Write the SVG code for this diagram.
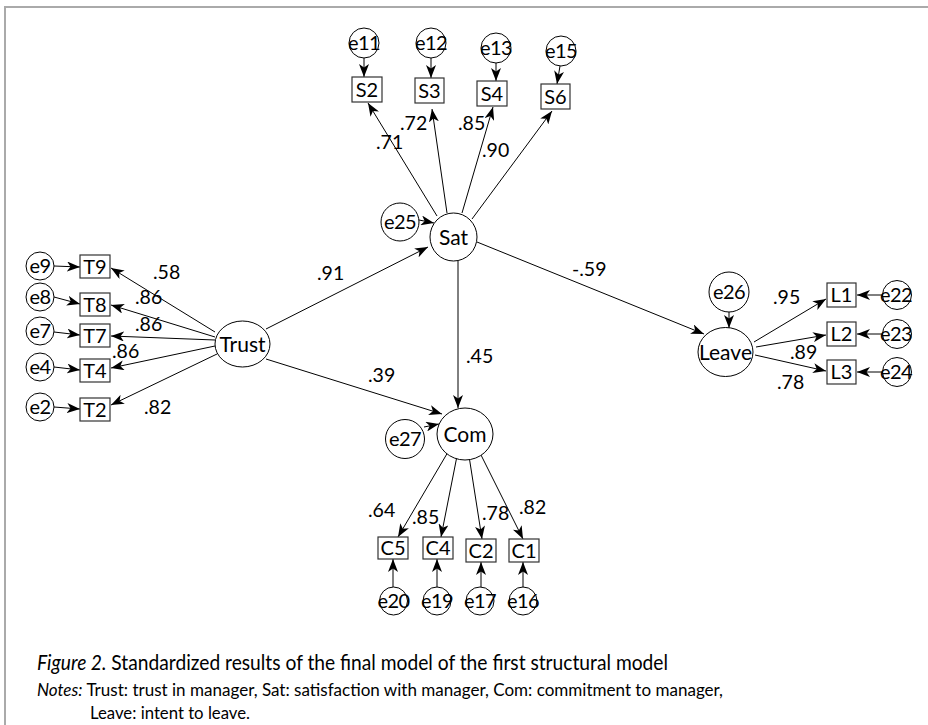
<svg xmlns="http://www.w3.org/2000/svg" width="928" height="725" viewBox="0 0 928 725">
<defs>
<marker id="ah" viewBox="0 0 13 10" refX="13" refY="5" markerWidth="13" markerHeight="10" markerUnits="userSpaceOnUse" orient="auto"><path d="M0,0 L13,5 L0,10 L3.5,5 z" fill="#000"/></marker>
</defs>
<style>
.n ellipse, .n circle {fill:#fff; stroke:#000; stroke-width:1}
.n rect {fill:#fff; stroke:#333; stroke-width:1.2}
text {font-family: Lato, "Open Sans", sans-serif; font-size:19.5px; fill:#000}
.c {text-anchor:middle}
.b {font-size:20px}
.l {font-size:21px}
.e {font-size:20px; letter-spacing:-0.6px}
#connectors line {stroke:#000; stroke-width:1; marker-end:url(#ah)}
.cap {font-size:21px}
.note {font-size:17px}
</style>
<rect width="928" height="725" fill="#fff"/>
<path d="M4,7 H928 M5,7 V725" stroke="#aaa" stroke-width="2" fill="none"/>

<g id="connectors">
<line x1="364" y1="58" x2="364" y2="77"/>
<line x1="431" y1="58" x2="431" y2="78"/>
<line x1="496" y1="63" x2="496" y2="81"/>
<line x1="560" y1="66" x2="557" y2="84"/>
<line x1="437" y1="216" x2="368" y2="103"/>
<line x1="447" y1="213" x2="432" y2="109"/>
<line x1="462" y1="213" x2="493" y2="107"/>
<line x1="472" y1="219" x2="552" y2="111"/>
<line x1="419" y1="220" x2="434" y2="223"/>
<line x1="266" y1="329" x2="428" y2="247"/>
<line x1="477" y1="242" x2="704" y2="334"/>
<line x1="458" y1="261" x2="458" y2="408"/>
<line x1="266" y1="359" x2="442" y2="414"/>
<line x1="424" y1="427" x2="439" y2="424"/>
<line x1="729" y1="312" x2="729" y2="328"/>
<line x1="754" y1="342" x2="826" y2="299"/>
<line x1="756" y1="347" x2="826" y2="335"/>
<line x1="755" y1="355" x2="826" y2="371"/>
<line x1="882" y1="295" x2="857" y2="295"/>
<line x1="882" y1="334" x2="857" y2="334"/>
<line x1="882" y1="372" x2="857" y2="372"/>
<line x1="448" y1="452" x2="398" y2="537"/>
<line x1="457" y1="456" x2="441" y2="537"/>
<line x1="469" y1="456" x2="482" y2="539"/>
<line x1="480" y1="453" x2="523" y2="539"/>
<line x1="393" y1="587" x2="393" y2="559"/>
<line x1="437" y1="587" x2="437" y2="559"/>
<line x1="481" y1="587" x2="481" y2="562"/>
<line x1="523" y1="587" x2="523" y2="562"/>
<line x1="215" y1="332" x2="111" y2="268"/>
<line x1="215" y1="337" x2="111" y2="305"/>
<line x1="215" y1="340" x2="111" y2="336"/>
<line x1="215" y1="346" x2="111" y2="368"/>
<line x1="217" y1="354" x2="111" y2="405"/>
<line x1="54" y1="266" x2="80" y2="267"/>
<line x1="54" y1="297" x2="80" y2="304"/>
<line x1="54" y1="332" x2="80" y2="335"/>
<line x1="54" y1="367" x2="80" y2="370"/>
<line x1="54" y1="407" x2="80" y2="409"/>
</g>

<g id="labels">
<text x="376" y="149">.71</text>
<text x="400" y="130">.72</text>
<text x="458" y="130">.85</text>
<text x="482" y="157">.90</text>
<text x="317" y="280">.91</text>
<text x="368" y="382">.39</text>
<text x="466" y="363">.45</text>
<text x="572" y="276">-.59</text>
<text x="153" y="279">.58</text>
<text x="135" y="304">.86</text>
<text x="135" y="331">.86</text>
<text x="112" y="358">.86</text>
<text x="144" y="414">.82</text>
<text x="773" y="304">.95</text>
<text x="790" y="359">.89</text>
<text x="777" y="389">.78</text>
<text x="368" y="517">.64</text>
<text x="412" y="524">.85</text>
<text x="482" y="520">.78</text>
<text x="519" y="514">.82</text>
</g>

<g id="Sat" class="n"><ellipse cx="453.5" cy="237" rx="23.5" ry="24"/><text class="c l" x="453.5" y="244.5">Sat</text></g>
<g id="Trust" class="n"><ellipse cx="242.5" cy="344" rx="27.5" ry="23"/><text class="c l" x="242.5" y="351.5">Trust</text></g>
<g id="Com" class="n"><ellipse cx="465" cy="434" rx="28" ry="26"/><text class="c l" x="465" y="441.5">Com</text></g>
<g id="Leave" class="n"><ellipse cx="725.5" cy="352" rx="27.5" ry="24.5"/><text class="c l" x="725.5" y="359.5">Leave</text></g>

<g id="e25" class="n"><circle cx="400" cy="222" r="19"/><text class="c e" x="400" y="229">e25</text></g>
<g id="e27" class="n"><circle cx="405" cy="439" r="19.5"/><text class="c e" x="405" y="446">e27</text></g>
<g id="e26" class="n"><circle cx="729" cy="292" r="20"/><text class="c e" x="729" y="299">e26</text></g>

<g id="e11" class="n"><circle cx="364" cy="43" r="15"/><text class="c e" x="364" y="50">e11</text></g>
<g id="e12" class="n"><circle cx="431" cy="43" r="15"/><text class="c e" x="431" y="50">e12</text></g>
<g id="e13" class="n"><circle cx="496" cy="48" r="15"/><text class="c e" x="496" y="55">e13</text></g>
<g id="e15" class="n"><circle cx="561" cy="51" r="15"/><text class="c e" x="561" y="58">e15</text></g>
<g id="S2" class="n"><rect x="352" y="77" width="30" height="25"/><text class="c b" x="367" y="96.5">S2</text></g>
<g id="S3" class="n"><rect x="415" y="78" width="29" height="25"/><text class="c b" x="429.5" y="97.5">S3</text></g>
<g id="S4" class="n"><rect x="477" y="81" width="30" height="25"/><text class="c b" x="492" y="100.5">S4</text></g>
<g id="S6" class="n"><rect x="541" y="84" width="29" height="25"/><text class="c b" x="555.5" y="103.5">S6</text></g>

<g id="e9" class="n"><circle cx="40" cy="266" r="14"/><text class="c e" x="40" y="273">e9</text></g>
<g id="e8" class="n"><circle cx="40" cy="297" r="14"/><text class="c e" x="40" y="304">e8</text></g>
<g id="e7" class="n"><circle cx="40" cy="331" r="14"/><text class="c e" x="40" y="338">e7</text></g>
<g id="e4" class="n"><circle cx="40" cy="367" r="14"/><text class="c e" x="40" y="374">e4</text></g>
<g id="e2" class="n"><circle cx="40" cy="407" r="14"/><text class="c e" x="40" y="414">e2</text></g>
<g id="T9" class="n"><rect x="80" y="255" width="30" height="23"/><text class="c b" x="95" y="273.5">T9</text></g>
<g id="T8" class="n"><rect x="80" y="293" width="30" height="23"/><text class="c b" x="95" y="311.5">T8</text></g>
<g id="T7" class="n"><rect x="80" y="324" width="30" height="23"/><text class="c b" x="95" y="342.5">T7</text></g>
<g id="T4" class="n"><rect x="80" y="359" width="30" height="23"/><text class="c b" x="95" y="377.5">T4</text></g>
<g id="T2" class="n"><rect x="80" y="398" width="30" height="23"/><text class="c b" x="95" y="416.5">T2</text></g>

<g id="L1" class="n"><rect x="827" y="283" width="29" height="24"/><text class="c b" x="841.5" y="302">L1</text></g>
<g id="L2" class="n"><rect x="827" y="322" width="29" height="24"/><text class="c b" x="841.5" y="341">L2</text></g>
<g id="L3" class="n"><rect x="827" y="360" width="29" height="24"/><text class="c b" x="841.5" y="379">L3</text></g>
<g id="e22" class="n"><circle cx="897" cy="295" r="14.5"/><text class="c e" x="896" y="302">e22</text></g>
<g id="e23" class="n"><circle cx="897" cy="334" r="14.5"/><text class="c e" x="896" y="341">e23</text></g>
<g id="e24" class="n"><circle cx="897" cy="372" r="14.5"/><text class="c e" x="896" y="379">e24</text></g>

<g id="C5" class="n"><rect x="378" y="537" width="30" height="22"/><text class="c b" x="393" y="555">C5</text></g>
<g id="C4" class="n"><rect x="423" y="537" width="30" height="22"/><text class="c b" x="438" y="555">C4</text></g>
<g id="C2" class="n"><rect x="466" y="539" width="30" height="23"/><text class="c b" x="481" y="557.5">C2</text></g>
<g id="C1" class="n"><rect x="509" y="539" width="30" height="23"/><text class="c b" x="524" y="557.5">C1</text></g>
<g id="e20" class="n"><circle cx="393.5" cy="601" r="14"/><text class="c e" x="393.5" y="608">e20</text></g>
<g id="e19" class="n"><circle cx="437" cy="601" r="14"/><text class="c e" x="437" y="608">e19</text></g>
<g id="e17" class="n"><circle cx="480" cy="601" r="14"/><text class="c e" x="480" y="608">e17</text></g>
<g id="e16" class="n"><circle cx="523" cy="601" r="14"/><text class="c e" x="523" y="608">e16</text></g>

<g id="caption">
<text class="cap" x="37" y="670" textLength="631" lengthAdjust="spacingAndGlyphs"><tspan font-style="italic">Figure 2.</tspan> Standardized results of the final model of the first structural model</text>
<text class="note" x="37" y="696" textLength="686" lengthAdjust="spacingAndGlyphs"><tspan font-style="italic">Notes:</tspan> Trust: trust in manager, Sat: satisfaction with manager, Com: commitment to manager,</text>
<text class="note" x="90" y="719" textLength="160" lengthAdjust="spacingAndGlyphs">Leave: intent to leave.</text>
</g>
</svg>
